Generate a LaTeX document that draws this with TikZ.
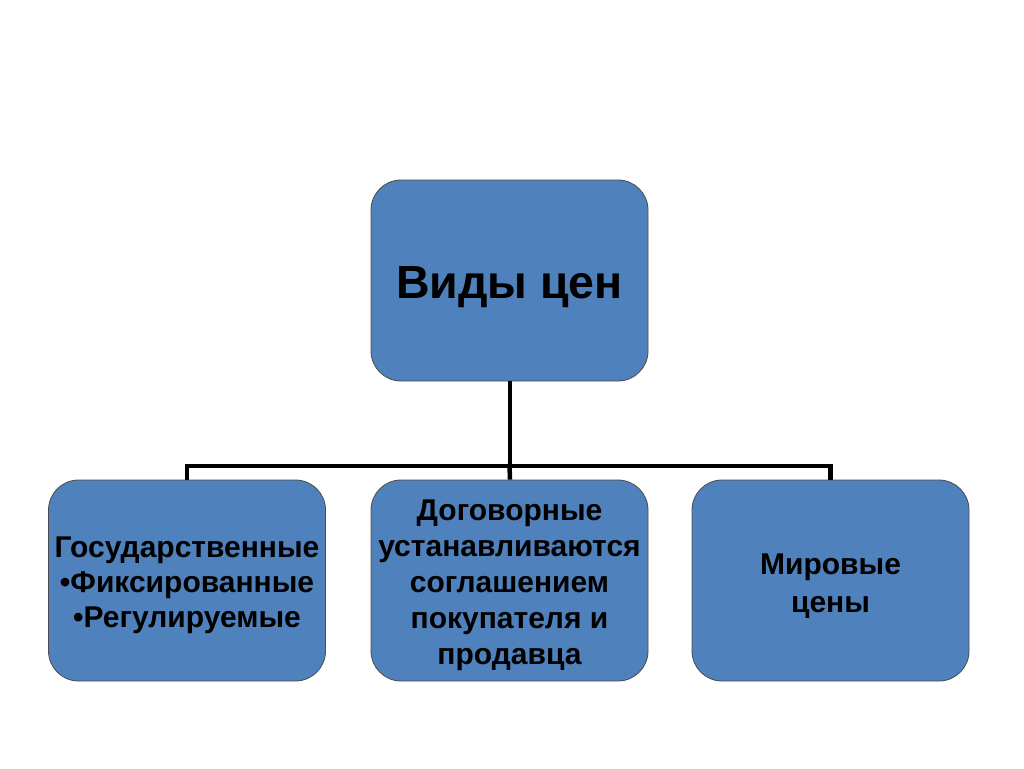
\documentclass[tikz,border=0pt]{standalone}
\usepackage{fontspec}
\setmainfont{Liberation Sans}
\begin{document}
\begin{tikzpicture}[x=1pt,y=-1pt,
  box/.style={draw=black!70,line width=0.8pt,fill=boxblue,rounded corners=30pt,
    minimum width=277pt,minimum height=201pt,inner sep=0pt},
  txt/.style={align=center,inner sep=0pt,font=\bfseries\fontsize{30}{36}\selectfont},
  conn/.style={line width=4.5pt,black}]
\definecolor{boxblue}{HTML}{4F81BD}
\useasboundingbox (0,0) rectangle (1024,768);
\node[box] (top) at (509.5,280.5) {};
\node[box] (left) at (187,580.5) {};
\node[box] (mid) at (509.5,580.5) {};
\node[box] (right) at (830.5,580.5) {};
\node[txt,font=\bfseries\fontsize{46.5}{54}\selectfont] (ttop) at ([yshift=-7pt]top.center) {Виды цен};
\node[txt] (tleft) at ([yshift=-5pt]left.center) {Государственные\\[-1pt]•Фиксированные\\[-1pt]•Регулируемые};
\node[txt] (tmid) at ([yshift=-5pt]mid.center) {Договорные\hspace{8pt}\\устанавливаются\\соглашением\\покупателя и\\продавца};
\node[txt] (tright) at ([yshift=-6pt]right.center) {Мировые\\[2pt]цены};
\coordinate (j) at (510,466);
\draw[conn] (top.south -| j) -- (j);
\draw[conn] (j) -- (j -| mid.north) -- (mid.north -| j);
\draw[conn,line join=miter] (j) -| (left.north);
\draw[conn,line join=miter] (j) -| (right.north);
\end{tikzpicture}
\end{document}
